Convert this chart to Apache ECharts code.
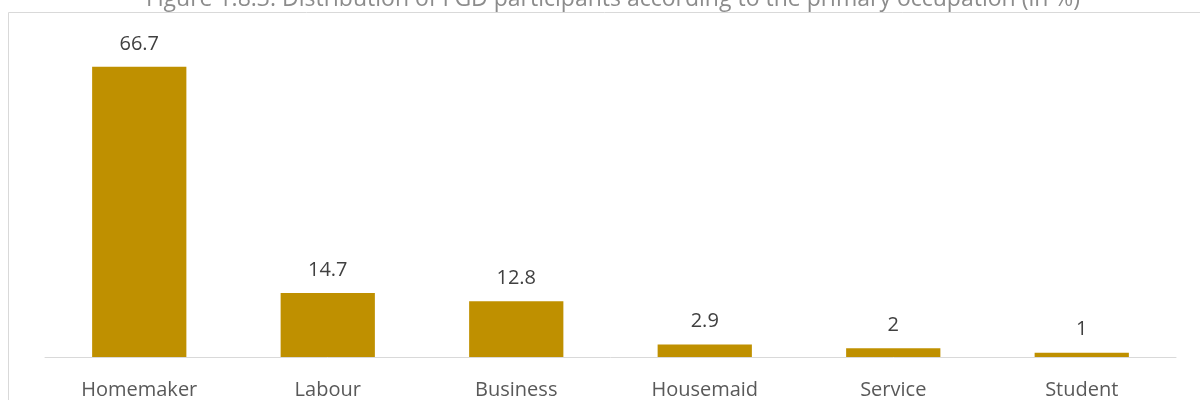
<!DOCTYPE html>
<html><head><meta charset="utf-8">
<script src="https://cdn.jsdelivr.net/npm/echarts@6/dist/echarts.min.js"></script>
<style>html,body{margin:0;padding:0;background:#fff}#c{width:1200px;height:400px}</style>
</head><body><div id="c"></div>
<script>
const titleText = 'Figure 1.8.3: Distribution of FGD participants according to the primary occupation (in %)';
const categories = ['Homemaker', 'Labour', 'Business', 'Housemaid', 'Service', 'Student'];
const values = [66.7, 14.7, 12.8, 2.9, 2, 1];

const chart = echarts.init(document.getElementById('c'), null, {renderer: 'canvas'});
chart.setOption({
  animation: false,
  graphic: [{
    type: 'rect', shape: {x: 8.5, y: 12.5, width: 1300, height: 500},
    style: {fill: 'none', stroke: '#d9d9d9', lineWidth: 1}, z: -1
  }, {
    type: 'text', x: 613, y: -12,
    style: {text: titleText, fontFamily: 'Open Sans', fontSize: 23, fill: '#8c8c8c', align: 'center', verticalAlign: 'top'}
  }],
  grid: {left: 45, right: 24, top: 9, bottom: 42, containLabel: false},
  xAxis: {
    type: 'category', data: categories,
    axisLine: {lineStyle: {color: '#d9d9d9', width: 1}},
    axisTick: {show: false},
    axisLabel: {color: '#595959', fontFamily: 'Open Sans', fontSize: 20, margin: 23}
  },
  yAxis: {type: 'value', min: 0, max: 80, show: false, splitLine: {show: false}},
  series: [{
    type: 'bar', data: values, barWidth: '50%',
    itemStyle: {color: '#bf9000'},
    label: {show: true, position: 'top', distance: 13, color: '#404040', fontFamily: 'Open Sans', fontSize: 20}
  }]
});
</script></body></html>
